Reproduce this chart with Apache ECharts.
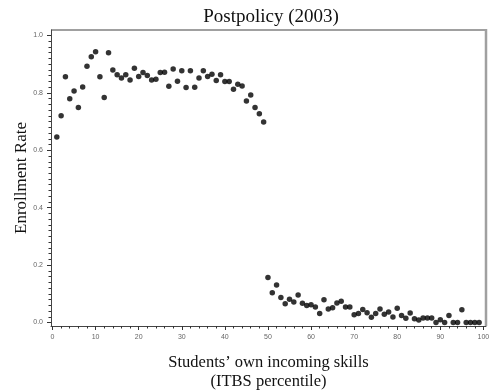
<!DOCTYPE html>
<html>
<head>
<meta charset="utf-8">
<script src="https://cdn.jsdelivr.net/npm/echarts@6/dist/echarts.min.js"></script>
<style>html,body{margin:0;padding:0;background:#fff}#c{width:492px;height:391px}</style>
</head>
<body>
<div id="c"></div>
<script>
const titleText = 'Postpolicy (2003)';
const xName = 'Students\u2019 own incoming skills\n(ITBS percentile)';
const yName = 'Enrollment Rate';
const xMajorTicks = [0, 10, 20, 30, 40, 50, 60, 70, 80, 90, 100];
const yMajorTicks = [0, 0.2, 0.4, 0.6, 0.8, 1.0];
const percentiles = [];
for (let i = 1; i <= 99; i++) percentiles.push(i);
const enrollRate = [
  0.646, 0.720, 0.856, 0.780, 0.807, 0.749, 0.821, 0.893, 0.926, 0.943,
  0.856, 0.784, 0.940, 0.880, 0.863, 0.852, 0.863, 0.845, 0.886, 0.857,
  0.871, 0.861, 0.845, 0.848, 0.871, 0.872, 0.823, 0.883, 0.841, 0.877,
  0.819, 0.877, 0.820, 0.852, 0.877, 0.857, 0.865, 0.843, 0.863, 0.840,
  0.840, 0.813, 0.830, 0.824, 0.772, 0.793, 0.749, 0.727, 0.699, 0.157,
  0.104, 0.131, 0.087, 0.065, 0.081, 0.071, 0.096, 0.067, 0.059, 0.062,
  0.054, 0.031, 0.079, 0.047, 0.051, 0.068, 0.074, 0.054, 0.054, 0.027,
  0.031, 0.045, 0.034, 0.018, 0.031, 0.047, 0.029, 0.037, 0.019, 0.050,
  0.024, 0.015, 0.033, 0.013, 0.009, 0.016, 0.016, 0.016, 0.000, 0.010,
  0.000, 0.024, 0.000, 0.000, 0.044, 0.000, 0.000, 0.000, 0.000
];
const points = percentiles.map((p, i) => [p, enrollRate[i]]);

// minor tick positions derived from the major ticks
const xMinorTicks = [];
for (let i = 0; i < xMajorTicks.length - 1; i++)
  for (let k = 1; k < 5; k++) xMinorTicks.push(xMajorTicks[i] + k * (xMajorTicks[i + 1] - xMajorTicks[i]) / 5);
const yMinorTicks = [];
for (let i = 0; i < yMajorTicks.length - 1; i++)
  for (let k = 1; k < 10; k++) yMinorTicks.push(+(yMajorTicks[i] + k * (yMajorTicks[i + 1] - yMajorTicks[i]) / 10).toFixed(4));

const X_MIN = -0.35, X_MAX = 100.6, Y_MIN = -0.0122, Y_MAX = 1.0192;
const chart = echarts.init(document.getElementById('c'), null, {renderer: 'canvas'});
const labelStyle = {fontFamily: 'Liberation Sans', fontSize: 7, color: '#666'};
const tickColor = '#333';
chart.setOption({
  animation: false,
  backgroundColor: '#fff',
  title: {
    text: titleText, left: 266, top: 3, textAlign: 'center',
    textStyle: {fontFamily: 'Liberation Serif', fontSize: 19, fontWeight: 'normal', color: '#111'}
  },
  grid: {left: 51, right: 6, top: 30, bottom: 65, containLabel: false, outerBoundsMode: 'none'},
  xAxis: [{
    type: 'value', min: X_MIN, max: X_MAX, position: 'bottom',
    name: xName, nameLocation: 'middle', nameGap: 27.5,
    nameTextStyle: {fontFamily: 'Liberation Serif', fontSize: 16.5, color: '#111', lineHeight: 19},
    axisLine: {show: true, onZero: false, lineStyle: {color: '#444', width: 1}},
    axisTick: {show: true, inside: false, length: 4, customValues: xMajorTicks, lineStyle: {color: tickColor}},
    splitLine: {show: false},
    axisLabel: Object.assign({margin: 8, customValues: xMajorTicks, showMinLabel: true, showMaxLabel: true}, labelStyle)
  }, {
    type: 'value', min: X_MIN, max: X_MAX, position: 'bottom', offset: 0,
    axisLine: {show: false, onZero: false},
    axisTick: {show: true, inside: false, length: 2.5, customValues: xMinorTicks, lineStyle: {color: tickColor}},
    splitLine: {show: false},
    axisLabel: {show: false}
  }],
  yAxis: [{
    type: 'value', min: Y_MIN, max: Y_MAX, position: 'left',
    name: yName, nameLocation: 'middle', nameGap: 20.5, nameMoveOverlap: false,
    nameTextStyle: {fontFamily: 'Liberation Serif', fontSize: 17, color: '#111'},
    axisLine: {show: true, onZero: false, lineStyle: {color: '#444', width: 1}},
    axisTick: {show: true, inside: false, length: 4, customValues: yMajorTicks, lineStyle: {color: tickColor}},
    splitLine: {show: false},
    axisLabel: Object.assign({margin: 8, customValues: yMajorTicks, formatter: v => v.toFixed(1)}, labelStyle)
  }, {
    type: 'value', min: Y_MIN, max: Y_MAX, position: 'left', offset: 0,
    axisLine: {show: false, onZero: false},
    axisTick: {show: true, inside: false, length: 2.5, customValues: yMinorTicks, lineStyle: {color: tickColor}},
    splitLine: {show: false},
    axisLabel: {show: false}
  }],
  graphic: [
    {type: 'line', shape: {x1: 51, y1: 30, x2: 486, y2: 30}, style: {stroke: '#a0a0a0', lineWidth: 2}},
    {type: 'line', shape: {x1: 486, y1: 29, x2: 486, y2: 326}, style: {stroke: '#a0a0a0', lineWidth: 2.5}}
  ],
  series: [{
    type: 'scatter', data: points, symbol: 'circle', symbolSize: 5.5,
    xAxisIndex: 0, yAxisIndex: 0,
    itemStyle: {color: '#000'}, clip: false
  }]
});
</script>
</body>
</html>
